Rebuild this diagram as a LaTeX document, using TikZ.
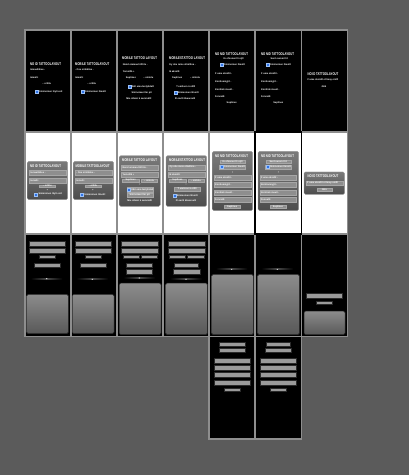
\documentclass[tikz,border=0pt]{standalone}
\usepackage{fontspec}
\setmainfont{Liberation Sans}
\usepackage{graphicx}
\definecolor{bggray}{HTML}{5B5B5B}
\definecolor{framegray}{HTML}{8E8E8E}
\definecolor{bargray}{HTML}{9A9A9A}
\definecolor{bardark}{HTML}{2A2A2A}
\definecolor{pantop}{HTML}{8C8C8C}
\definecolor{panbot}{HTML}{585858}
\definecolor{dlgtop}{HTML}{7A7A7A}
\definecolor{dlgbot}{HTML}{4C4C4C}
\definecolor{dlgedge}{HTML}{9A9A9A}
\definecolor{fieldgray}{HTML}{8E8E8E}
\definecolor{fieldedge}{HTML}{A6A6A6}
\definecolor{cbblue}{HTML}{2F74E8}
\definecolor{cbedge}{HTML}{9CC0F5}
\definecolor{glowgray}{HTML}{4A4A4A}
\newcommand\ttlt[1]{\scalebox{0.72}[1]{#1}}
\tikzset{
  cellframe/.style={draw=framegray, line width=1.6pt},
  hiframe/.style={draw=black, line width=1.6pt},
  bar/.style={fill=bargray, draw=bardark, line width=0.5pt},
  panel/.style={rounded corners=1.5pt, top color=pantop, bottom color=panbot, draw=bardark, line width=0.5pt},
  dialog/.style={rounded corners=1.5pt, top color=dlgtop, bottom color=dlgbot, draw=dlgedge, line width=0.3pt},
  field/.style={fill=fieldgray, draw=fieldedge, line width=0.3pt},
  ttl/.style={text=white, inner sep=0, anchor=west, font=\fontsize{3.9}{4}\selectfont\bfseries},
  txt/.style={text=white, inner sep=0, anchor=west, font=\fontsize{2.4}{2.6}\selectfont\bfseries},
  ctxt/.style={txt, anchor=center},
  cbox/.style={fill=cbblue, draw=cbedge, line width=0.25pt, minimum size=2.8pt, inner sep=0, shape=rectangle},
  dotw/.style={fill=white, shape=circle, inner sep=0, minimum size=0.9pt},
}
\newcommand\glow[2]{%
  \shade[left color=black, right color=glowgray] (#1-16,#2-0.4) rectangle (#1,#2+0.4);
  \shade[left color=glowgray, right color=black] (#1,#2-0.4) rectangle (#1+16,#2+0.4);
  \fill[white] (#1,#2) circle (0.6);}
\begin{document}
\begin{tikzpicture}[x=1pt,y=-1pt]
\useasboundingbox[fill=bggray] (0,0) rectangle (409,475);
% ---------------- cell backgrounds ----------------
\foreach \cx in {24.7,70.8,116.9,163.0,209.1,255.2,301.3}{
  \fill[black] (\cx,29.7) rectangle ++(46.1,102.25);
  \fill[white] (\cx,131.95) rectangle ++(46.1,102.25);
  \fill[black] (\cx,234.2) rectangle ++(46.1,102.25);
}
\foreach \cx in {209.1,255.2}{ \fill[black] (\cx,336.45) rectangle ++(46.1,102.25); }
\foreach \cx in {24.7,70.8,116.9,163.0,209.1,255.2,301.3}{
  \draw[cellframe] (\cx,29.7) rectangle ++(46.1,102.25);
  \draw[cellframe] (\cx,131.95) rectangle ++(46.1,102.25);
  \draw[cellframe] (\cx,234.2) rectangle ++(46.1,102.25);
}
\foreach \cx in {209.1,255.2}{ \draw[cellframe] (\cx,336.45) rectangle ++(46.1,102.25); }
\draw[hiframe] (255.2,131.95) rectangle ++(46.1,102.25);

% ================= ROW 1 =================
\begin{scope}[shift={(24.7,29.7)}]
  \node[ttl] (a1t) at (5.3,34.3) {\ttlt{NO ID TATTOOLAYOUT}};
  \node[txt] (a1a) at (5.3,39.6) {Ismaailähee -};
  \node[txt] (a1b) at (5.3,47.6) {Ismaili:};
  \node[ctxt] (a1c) at (22,53.6) {– ortiilu};
  \node[cbox] (a1k) at (12,62.3) {};
  \node[txt] (a1d) at (14.3,62.3) {Sinimoinen löyti esit};
\end{scope}
\begin{scope}[shift={(70.8,29.7)}]
  \node[ttl] (a2t) at (4.2,34.3) {\ttlt{MOBILE TATTOOLAYOUT}};
  \node[txt] (a2a) at (4.2,39.6) {- Ose ointiäilee -};
  \node[txt] (a2b) at (4.2,47.6) {Ismaili:};
  \node[ctxt] (a2c) at (21,53.6) {– ortiilu};
  \node[cbox] (a2k) at (11.9,62.3) {};
  \node[txt] (a2d) at (14.2,62.3) {Sinimoinen Ilmoitt};
\end{scope}
\begin{scope}[shift={(116.9,29.7)}]
  \node[ttl] (a3t) at (5.1,28.6) {\ttlt{MOBILE TATTOO LAYOUT}};
  \node[txt] (a3a) at (5.8,35.3) {Nend ommaa löllt ile -};
  \node[txt] (a3b) at (5.8,42.3) {Yemsillä +};
  \node[ctxt] (a3c) at (14,48.3) {Suplines};
  \node[ctxt] (a3e) at (31.4,48.3) {– ointolu};
  \node[cbox] (a3k) at (12.4,57) {};
  \node[txt] (a3d) at (14.7,57) {Ildri ema testyhdatt};
  \node[ctxt] (a3f) at (24.8,63.3) {Sininomen Ilm pit};
  \node[ctxt] (a3g) at (22,69.3) {Mie ottaisi k semmällt};
\end{scope}
\begin{scope}[shift={(163.0,29.7)}]
  \node[ttl] (a4t) at (6,28.6) {\ttlt{MOBILESTATTOO LAYOUT}};
  \node[txt] (a4a) at (6,35.3) {Oy ohe mnie ottaillina -};
  \node[txt] (a4b) at (6,42.3) {Ik aksolli:};
  \node[ctxt] (a4c) at (14.2,48.3) {Suplines};
  \node[ctxt] (a4e) at (32,48.3) {– ointolu};
  \node[ctxt] (a4f) at (22.8,57) {T emiloon ä oitlll};
  \node[cbox] (a4k) at (12.3,63.3) {};
  \node[txt] (a4d) at (14.6,63.3) {Sinimoinen Ilmoitt};
  \node[ctxt] (a4g) at (22.2,69.3) {Ill oariti kkaaroelli};
\end{scope}
\begin{scope}[shift={(209.1,29.7)}]
  \node[ttl] (a5t) at (5.9,24) {\ttlt{NO NID TATTOOLAYOUT}};
  \node[ctxt] (a5a) at (24.5,29.3) {Kı ohionen lli oijll};
  \node[cbox] (a5k) at (12.6,34.6) {};
  \node[txt] (a5b) at (14.9,34.6) {Sinimoinen Ilmoitt};
  \node[txt] (a5c) at (5.9,44.3) {F ume oksidit -};
  \node[txt] (a5d) at (5.9,52.6) {Kontiomnyjit -};
  \node[txt] (a5e) at (5.9,59.6) {Kontiiok muuit -};
  \node[txt] (a5f) at (5.9,67) {Fonnalli:};
  \node[ctxt] (a5g) at (22.6,73.6) {Suplines};
\end{scope}
\begin{scope}[shift={(255.2,29.7)}]
  \node[ttl] (a6t) at (5.8,24) {\ttlt{NO NID TATTOOLAYOUT}};
  \node[ctxt] (a6a) at (24.2,29.3) {Sent ourem Il it};
  \node[cbox] (a6k) at (12.5,34.6) {};
  \node[txt] (a6b) at (14.8,34.6) {Sinimoinen Ilmoitt};
  \node[txt] (a6c) at (5.8,44.3) {F ume oksidit -};
  \node[txt] (a6d) at (5.8,52.6) {Kontiomnyjit -};
  \node[txt] (a6e) at (5.8,59.6) {Kontiiok muuit -};
  \node[txt] (a6f) at (5.8,67) {Fonnalli:};
  \node[ctxt] (a6g) at (23.1,73.6) {Suplines};
\end{scope}
\begin{scope}[shift={(301.3,29.7)}]
  \node[ttl] (a7t) at (6,44.6) {\ttlt{NO ID TATTOOLAYOUT}};
  \node[txt] (a7a) at (6,50.3) {F ume oksidit ot lmay onilll};
  \node[ctxt] (a7b) at (22.4,57.3) {Jätä};
\end{scope}

% ================= ROW 2 =================
\begin{scope}[shift={(24.7,131.95)}]
  \draw[dialog] (2.6,29.4) rectangle (43,67.7);
  \node[ttl] (b1t) at (5.3,34.4) {\ttlt{NO ID TATTOOLAYOUT}};
  \draw[field] (4.6,37.7) rectangle (41,42.7);
  \node[txt] (b1a) at (5.6,40.2) {Ismaailähee -};
  \draw[field] (4.6,46) rectangle (41,51);
  \node[txt] (b1b) at (5.6,48.5) {Ismaili:};
  \draw[field] (14.6,52.7) rectangle (30.3,55.3);
  \node[ctxt] (b1c) at (22.45,54) {– ortiilu};
  \node[dotw] (b1p) at (22.5,57.7) {};
  \node[cbox] (b1k) at (11.3,62.3) {};
  \node[txt] (b1d) at (13.6,62.3) {Sinimoinen löyti esit};
\end{scope}
\begin{scope}[shift={(70.8,131.95)}]
  \draw[dialog] (2.5,29.4) rectangle (42.9,67.7);
  \node[ttl] (b2t) at (4.5,34.4) {\ttlt{MOBILE TATTOOLAYOUT}};
  \draw[field] (4.3,37.7) rectangle (40.9,42.7);
  \node[txt] (b2a) at (5.3,40.2) {- Ose ointiäilee -};
  \draw[field] (4.3,46) rectangle (40.9,51);
  \node[txt] (b2b) at (5.3,48.5) {Ismaili:};
  \draw[field] (14.2,52.7) rectangle (29.9,55.3);
  \node[ctxt] (b2c) at (22.05,54) {– ortiilu};
  \node[dotw] (b2p) at (22,57.7) {};
  \node[cbox] (b2k) at (11.2,62.3) {};
  \node[txt] (b2d) at (13.5,62.3) {Sinimoinen Ilmoitt};
\end{scope}
\begin{scope}[shift={(116.9,131.95)}]
  \draw[dialog] (2.4,23.7) rectangle (43.4,74.4);
  \node[ttl] (b3t) at (5.1,28.7) {\ttlt{MOBILE TATTOO LAYOUT}};
  \draw[field] (4.5,32.7) rectangle (41.4,37.7);
  \node[txt] (b3a) at (5.5,35.2) {Nend ommaa löllt ile -};
  \draw[field] (4.5,40.3) rectangle (41.4,45.3);
  \node[txt] (b3b) at (5.5,42.8) {Yemsillä +};
  \draw[field] (5.4,46.7) rectangle (22.1,50);
  \node[ctxt] (b3c) at (13.75,48.35) {Suplines};
  \draw[field] (23.8,46.7) rectangle (40.4,50);
  \node[ctxt] (b3e) at (32.1,48.35) {– ointolu};
  \node[dotw] (b3p) at (22.9,52) {};
  \draw[field] (9.8,55) rectangle (35.8,60);
  \node[cbox] (b3k) at (12.1,57.5) {};
  \node[txt] (b3d) at (14.4,57.5) {Ildri ema testyhdatt};
  \draw[field] (9.8,61.4) rectangle (35.8,65.4);
  \node[ctxt] (b3f) at (22.8,63.4) {Sininomen Ilm pit};
  \node[ctxt] (b3g) at (22.9,68.7) {Mie ottaisi k semmällt};
\end{scope}
\begin{scope}[shift={(163.0,131.95)}]
  \draw[dialog] (3,23.7) rectangle (43.7,74.4);
  \node[ttl] (b4t) at (6,28.7) {\ttlt{MOBILESTATTOO LAYOUT}};
  \draw[field] (5.3,32.7) rectangle (42,37.7);
  \node[txt] (b4a) at (6.3,35.2) {Oy ohe mnie ottaillina -};
  \draw[field] (5.3,40.3) rectangle (42,45.3);
  \node[txt] (b4b) at (6.3,42.8) {Ik aksolli:};
  \draw[field] (6.3,46.7) rectangle (22.7,50);
  \node[ctxt] (b4c) at (14.5,48.35) {Suplines};
  \draw[field] (24.7,46.7) rectangle (41,50);
  \node[ctxt] (b4e) at (32.85,48.35) {– ointolu};
  \node[dotw] (b4p) at (23,52) {};
  \draw[field] (11.3,55) rectangle (37,59.3);
  \node[ctxt] (b4f) at (24.15,57.15) {T emiloon ä oitlll};
  \node[cbox] (b4k) at (11.3,63.7) {};
  \node[txt] (b4d) at (13.6,63.7) {Sinimoinen Ilmoitt};
  \node[ctxt] (b4g) at (23,68.7) {Ill oariti kkaaroelli};
\end{scope}
\begin{scope}[shift={(209.1,131.95)}]
  \draw[dialog] (3.2,19.4) rectangle (43.6,78.7);
  \node[ttl] (b5t) at (5.9,24.4) {\ttlt{NO NID TATTOOLAYOUT}};
  \draw[field] (10.9,27.7) rectangle (35.9,31.3);
  \node[ctxt] (b5a) at (23.4,29.5) {Kı ohionen lli oijll};
  \draw[field] (9.9,33) rectangle (35.9,37);
  \node[cbox] (b5k) at (12.6,35) {};
  \node[txt] (b5b) at (14.9,35) {Sinimoinen Ilmoitt};
  \node[dotw] (b5p) at (23.4,40) {};
  \draw[field] (4.9,42.7) rectangle (41.6,47.7);
  \node[txt] (b5c) at (5.9,45.2) {F ume oksidit -};
  \draw[field] (4.9,50.4) rectangle (41.6,55.4);
  \node[txt] (b5d) at (5.9,52.9) {Kontiomnyjit -};
  \draw[field] (4.9,57.7) rectangle (41.6,62.7);
  \node[txt] (b5e) at (5.9,60.2) {Kontiiok muuit -};
  \draw[field] (4.9,65) rectangle (41.6,70);
  \node[txt] (b5f) at (5.9,67.5) {Fonnalli:};
  \draw[field] (15.2,73.3) rectangle (30.9,76);
  \node[ctxt] (b5g) at (23.05,74.65) {Suplines};
\end{scope}
\begin{scope}[shift={(255.2,131.95)}]
  \draw[dialog] (2.8,19.4) rectangle (43.5,78.7);
  \node[ttl] (b6t) at (5.6,24.4) {\ttlt{NO NID TATTOOLAYOUT}};
  \draw[field] (10.6,27.7) rectangle (35.6,31.3);
  \node[ctxt] (b6a) at (23.1,29.5) {Sent ourem Il it};
  \draw[field] (9.6,33) rectangle (35.6,37);
  \node[cbox] (b6k) at (12.3,35) {};
  \node[txt] (b6b) at (14.6,35) {Sinimoinen Ilmoitt};
  \node[dotw] (b6p) at (23.1,40) {};
  \draw[field] (4.6,42.7) rectangle (41.3,47.7);
  \node[txt] (b6c) at (5.6,45.2) {F ume oksidit -};
  \draw[field] (4.6,50.4) rectangle (41.3,55.4);
  \node[txt] (b6d) at (5.6,52.9) {Kontiomnyjit -};
  \draw[field] (4.6,57.7) rectangle (41.3,62.7);
  \node[txt] (b6e) at (5.6,60.2) {Kontiiok muuit -};
  \draw[field] (4.6,65) rectangle (41.3,70);
  \node[txt] (b6f) at (5.6,67.5) {Fonnalli:};
  \draw[field] (14.9,73.3) rectangle (30.6,76);
  \node[ctxt] (b6g) at (22.75,74.65) {Suplines};
\end{scope}
\begin{scope}[shift={(301.3,131.95)}]
  \draw[dialog] (2.7,40) rectangle (43.4,62.4);
  \node[ttl] (b7t) at (6,44.7) {\ttlt{NO ID TATTOOLAYOUT}};
  \draw[field] (4.7,48.7) rectangle (41.4,53.3);
  \node[txt] (b7a) at (5.7,51) {F ume oksidit ot lmay onilll};
  \draw[field] (15.4,56) rectangle (30.4,59);
  \node[ctxt] (b7b) at (22.9,57.5) {Jätä};
\end{scope}

% ================= ROW 3 =================
\begin{scope}[shift={(24.7,234.2)}]
  \draw[bar] (4.3,6.8) rectangle (41,12.1);
  \draw[bar] (4.3,13.8) rectangle (41,19.1);
  \draw[bar] (14.6,20.8) rectangle (30.3,24.1);
  \draw[bar] (9.6,29.1) rectangle (35.3,33.1);
  \glow{22}{44.5}
  \draw[panel] (2,60.1) rectangle (43.6,99.5);
\end{scope}
\begin{scope}[shift={(70.8,234.2)}]
  \draw[bar] (4.2,6.8) rectangle (40.9,12.1);
  \draw[bar] (4.2,13.8) rectangle (40.9,19.1);
  \draw[bar] (14.2,20.8) rectangle (30.2,24.1);
  \draw[bar] (9.2,29.1) rectangle (35.2,33.1);
  \glow{21.5}{45}
  \draw[panel] (1.5,60.1) rectangle (43.2,99.5);
\end{scope}
\begin{scope}[shift={(116.9,234.2)}]
  \draw[bar] (4.8,6.8) rectangle (41.4,12.1);
  \draw[bar] (4.8,13.8) rectangle (41.4,19.1);
  \draw[bar] (6.1,20.8) rectangle (22.1,24.1);
  \draw[bar] (24.1,20.8) rectangle (40.1,24.1);
  \draw[bar] (9.8,29.1) rectangle (35.8,33.5);
  \draw[bar] (9.8,35.5) rectangle (35.8,40.1);
  \glow{22.4}{43.8}
  \draw[panel] (2.4,48.8) rectangle (44.1,100.5);
\end{scope}
\begin{scope}[shift={(163.0,234.2)}]
  \draw[bar] (5.3,6.8) rectangle (42,12.1);
  \draw[bar] (5.3,13.8) rectangle (42,19.1);
  \draw[bar] (6.3,20.8) rectangle (22.7,24.1);
  \draw[bar] (24.7,20.8) rectangle (41,24.1);
  \draw[bar] (11.3,29.1) rectangle (35.3,33.5);
  \draw[bar] (10.3,35.5) rectangle (37,40.1);
  \glow{23}{45.1}
  \draw[panel] (2.7,48.8) rectangle (44.3,100.5);
\end{scope}
\begin{scope}[shift={(209.1,234.2)}]
  \glow{22.6}{35.1}
  \draw[panel] (2.6,40.1) rectangle (44.2,100.5);
\end{scope}
\begin{scope}[shift={(255.2,234.2)}]
  \glow{22.1}{35.1}
  \draw[panel] (2.5,40.1) rectangle (44.1,100.5);
\end{scope}
\begin{scope}[shift={(301.3,234.2)}]
  \draw[bar] (4.7,58.8) rectangle (41.4,64.5);
  \draw[bar] (14.7,66.8) rectangle (31,69.8);
  \draw[panel] (2.7,76.8) rectangle (43.7,100.5);
\end{scope}

% ================= ROW 4 =================
\begin{scope}[shift={(209.1,336.45)}]
  \draw[bar] (10.2,6.2) rectangle (36.6,10.2);
  \draw[bar] (10.2,11.9) rectangle (36.6,16.2);
  \draw[bar] (4.9,21.5) rectangle (41.6,26.8);
  \draw[bar] (4.9,28.5) rectangle (41.6,33.5);
  \draw[bar] (4.9,36.2) rectangle (41.6,41.2);
  \draw[bar] (4.9,43.5) rectangle (41.6,48.5);
  \draw[bar] (15.2,51.5) rectangle (30.9,54.8);
\end{scope}
\begin{scope}[shift={(255.2,336.45)}]
  \draw[bar] (11.5,6.2) rectangle (34.8,10.2);
  \draw[bar] (10.1,11.9) rectangle (36.5,16.2);
  \draw[bar] (4.8,21.5) rectangle (41.5,26.8);
  \draw[bar] (4.8,28.5) rectangle (41.5,33.5);
  \draw[bar] (4.8,36.2) rectangle (41.5,41.2);
  \draw[bar] (4.8,43.5) rectangle (41.5,48.5);
  \draw[bar] (15.1,51.5) rectangle (30.8,54.8);
\end{scope}
\end{tikzpicture}
\end{document}
